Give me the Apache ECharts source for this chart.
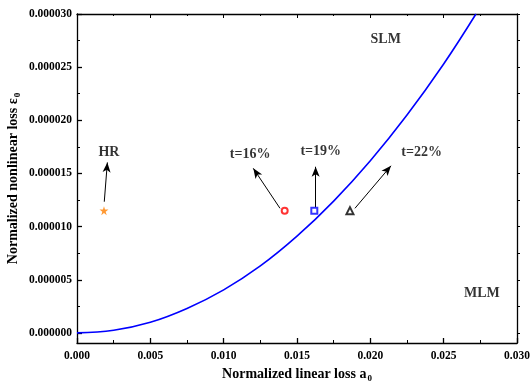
<!DOCTYPE html>
<html>
<head>
<meta charset="utf-8">
<script src="https://cdn.jsdelivr.net/npm/echarts@6/dist/echarts.min.js"></script>
<style>html,body{margin:0;padding:0;background:#fff;}#c{width:530px;height:381px;}</style>
</head>
<body>
<div id="c"></div>
<script>
// Boundary curve
const curveA = [0, 0.0025, 0.005, 0.0075, 0.01, 0.0125, 0.015, 0.0175, 0.02, 0.0225, 0.025, 0.0272];
const curveE = [0, 0.25e-6, 1.0e-6, 2.3e-6, 4.05e-6, 6.3e-6, 9.1e-6, 12.4e-6, 16.2e-6, 20.5e-6, 25.3e-6, 30e-6];

// Marker points
const pointNames = ['HR', 't=16%', 't=19%', 't=22%'];
const pointA = [0.00184, 0.01416, 0.01618, 0.01861];
const pointE = [1.15e-5, 1.15e-5, 1.15e-5, 1.15e-5];

// Arrow annotations (tail -> head), data coords
const arrowFromA = [0.00186, 0.01384, 0.01627, 0.01895];
const arrowFromE = [12.34e-6, 11.72e-6, 11.81e-6, 11.72e-6];
const arrowToA = [0.00207, 0.01202, 0.01627, 0.02141];
const arrowToE = [16.04e-6, 15.48e-6, 15.63e-6, 15.72e-6];

// Text annotations
const noteText = ['HR', 't=16%', 't=19%', 't=22%', 'SLM', 'MLM'];
const noteA = [0.00218, 0.0118, 0.01662, 0.0235, 0.02105, 0.02761];
const noteE = [17.01e-6, 16.82e-6, 17.04e-6, 16.95e-6, 27.63e-6, 3.76e-6];

// Axis ticks
const yMajorTicks = [0, 0.000005, 0.00001, 0.000015, 0.00002, 0.000025, 0.00003];
const yMinorTicks = [0.0000025, 0.0000075, 0.0000125, 0.0000175, 0.0000225, 0.0000275];

const FONT = "'Liberation Serif','Times New Roman',serif";
const STAR = 'path://M50,0 L61,35 L98,35 L68,57 L79,91 L50,70 L21,91 L32,57 L2,35 L39,35 Z';

const yMin = -0.00000095, yMax = 0.00003;
const axisLineStyle = {color: '#000', width: 1.3};

const chart = echarts.init(document.getElementById('c'), null, {renderer: 'canvas'});
const markerStyles = [
  {symbol: STAR, symbolSize: 9, itemStyle: {color: '#FF8000'}},
  {symbol: 'emptyCircle', symbolSize: 6, itemStyle: {color: '#FF0000', borderColor: '#FF0000', borderWidth: 2}},
  {symbol: 'emptyRect', symbolSize: 6, itemStyle: {color: '#0000FF', borderColor: '#0000FF', borderWidth: 2}},
  {symbol: 'emptyTriangle', symbolSize: 7, itemStyle: {color: '#000', borderColor: '#000', borderWidth: 2}}
];

const series = [
  {
    type: 'line', name: 'boundary', xAxisIndex: 0, yAxisIndex: 0,
    data: curveA.map((a, i) => [a, curveE[i]]),
    smooth: 0.4, showSymbol: false, symbol: 'none',
    lineStyle: {color: '#0000FF', width: 1.6},
    z: 3, silent: true
  }
];
pointNames.forEach((n, i) => {
  series.push(Object.assign({
    type: 'scatter', name: n, xAxisIndex: 0, yAxisIndex: 0,
    data: [[pointA[i], pointE[i]]], z: 5, silent: true
  }, markerStyles[i]));
});
series.push({
  type: 'scatter', name: 'notes', xAxisIndex: 0, yAxisIndex: 0,
  symbolSize: 0, silent: true, z: 6,
  data: noteText.map((t, i) => ({name: t, value: [noteA[i], noteE[i]]})),
  label: {show: true, position: 'inside', formatter: '{b}', color: '#000',
    fontFamily: FONT, fontWeight: 'bold', fontSize: 14}
});
series.push({
  type: 'line', name: 'arrows', xAxisIndex: 0, yAxisIndex: 0,
  data: [], silent: true, z: 6,
  markLine: {
    silent: true, animation: false,
    symbol: ['none', 'arrow'], symbolSize: [6, 10],
    lineStyle: {color: '#000', width: 1, type: 'solid'},
    itemStyle: {color: '#000'},
    label: {show: false},
    data: arrowFromA.map((a, i) => [
      {coord: [a, arrowFromE[i]], symbol: 'none'},
      {coord: [arrowToA[i], arrowToE[i]], symbol: 'arrow', symbolSize: [6, 10]}
    ])
  }
});

chart.setOption({
  animation: false,
  backgroundColor: '#fff',
  grid: {left: 77, right: 13, top: 14, bottom: 38, containLabel: false, outerBoundsMode: 'none'},
  xAxis: [
    {
      type: 'value', position: 'bottom', min: 0, max: 0.03, interval: 0.005,
      axisLine: {show: true, onZero: false, lineStyle: axisLineStyle},
      axisTick: {show: true, inside: true, length: 5, lineStyle: {color: '#000', width: 1.3}},
      minorTick: {show: true, splitNumber: 2, length: 3, lineStyle: {color: '#000', width: 1}},
      splitLine: {show: false}, minorSplitLine: {show: false},
      axisLabel: {color: '#000', fontFamily: FONT, fontWeight: 'bold', fontSize: 11.5, margin: 7,
        formatter: v => v.toFixed(3)},
      name: '{n|Normalized linear loss a}{s|0}', nameLocation: 'middle', nameGap: 22,
      nameMoveOverlap: false,
      nameTextStyle: {color: '#000', rich: {
        n: {fontFamily: FONT, fontWeight: 'bold', fontSize: 14, color: '#000'},
        s: {fontFamily: FONT, fontWeight: 'bold', fontSize: 9, color: '#000', padding: [9, 0, 0, 1]}
      }}
    },
    {
      type: 'value', position: 'top', min: 0, max: 0.03, interval: 0.005,
      axisLine: {show: true, onZero: false, lineStyle: axisLineStyle},
      axisTick: {show: true, inside: true, length: 4, lineStyle: {color: '#000', width: 1}},
      minorTick: {show: true, splitNumber: 2, length: 2, lineStyle: {color: '#000', width: 1}},
      splitLine: {show: false}, axisLabel: {show: false}
    }
  ],
  yAxis: [
    {
      type: 'value', position: 'left', min: yMin, max: yMax,
      axisLine: {show: true, onZero: false, lineStyle: axisLineStyle},
      axisTick: {show: true, inside: true, length: 5, customValues: yMajorTicks, lineStyle: {color: '#000', width: 1.3}},
      splitLine: {show: false},
      axisLabel: {color: '#000', fontFamily: FONT, fontWeight: 'bold', fontSize: 11.5, margin: 5,
        customValues: yMajorTicks, formatter: v => v.toFixed(6)},
      name: '{n|Normalized nonlinear loss ε}{s|0}', nameLocation: 'middle', nameGap: 55,
      nameMoveOverlap: false,
      nameTextStyle: {color: '#000', rich: {
        n: {fontFamily: FONT, fontWeight: 'bold', fontSize: 14, color: '#000'},
        s: {fontFamily: FONT, fontWeight: 'bold', fontSize: 9, color: '#000', padding: [9, 0, 0, 1]}
      }}
    },
    {
      type: 'value', position: 'left', min: yMin, max: yMax,
      axisLine: {show: false, onZero: false},
      axisTick: {show: true, inside: true, length: 3, customValues: yMinorTicks, lineStyle: {color: '#000', width: 1}},
      splitLine: {show: false}, axisLabel: {show: false}
    },
    {
      type: 'value', position: 'right', min: yMin, max: yMax,
      axisLine: {show: true, onZero: false, lineStyle: axisLineStyle},
      axisTick: {show: true, inside: false, length: 3, customValues: yMajorTicks.concat(yMinorTicks), lineStyle: {color: '#000', width: 1}},
      splitLine: {show: false}, axisLabel: {show: false}
    }
  ],
  series: series
});
</script>
</body>
</html>
